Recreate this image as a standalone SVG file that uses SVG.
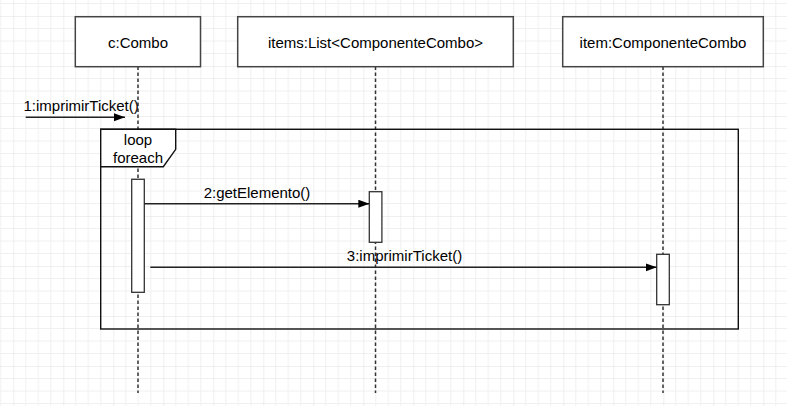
<svg xmlns="http://www.w3.org/2000/svg" width="787" height="406" viewBox="0 0 787 406">
<defs>
<pattern id="grid" width="50" height="50" patternUnits="userSpaceOnUse" x="13.3" y="16">
<path d="M12.5,0V50M25,0V50M37.5,0V50M0,12.5H50M0,25H50M0,37.5H50" fill="none" stroke="#f0f0f0" stroke-width="1"/>
<path d="M0,0V50M0,0H50" fill="none" stroke="#e0e0e0" stroke-width="1"/>
</pattern>
<marker id="arrow" markerUnits="userSpaceOnUse" markerWidth="12" markerHeight="9" refX="11" refY="4" orient="auto">
<path d="M0,0 L11,4 L0,8 z" fill="#000"/>
</marker>
<style>
.box{fill:#fff;stroke:#444;stroke-width:1.5}
.life{fill:none;stroke:#333;stroke-width:1.5;stroke-dasharray:3.5 2.5}
.act{fill:#fff;stroke:#333;stroke-width:1.3}
.msg{fill:none;stroke:#222;stroke-width:1.4;marker-end:url(#arrow)}
.frame{fill:none;stroke:#111;stroke-width:1.4}
text{font-family:"Liberation Sans",Arial,sans-serif;font-size:15px;fill:#000}
.c{text-anchor:middle;dominant-baseline:central}
</style>
</defs>
<rect width="787" height="406" fill="#fff"/>
<rect width="787" height="406" fill="url(#grid)"/>

<g id="combo">
<line class="life" x1="138" y1="66.5" x2="138" y2="393"/>
<rect class="box" x="75.3" y="16.7" width="125.2" height="50"/>
<text class="c" x="138" y="42">c:Combo</text>
</g>

<g id="items">
<line class="life" x1="375.5" y1="66.5" x2="375.5" y2="393"/>
<rect class="box" x="237.7" y="16.7" width="275.6" height="50"/>
<text class="c" x="375.5" y="42">items:List&lt;ComponenteCombo&gt;</text>
</g>

<g id="item">
<line class="life" x1="663" y1="66.5" x2="663" y2="393"/>
<rect class="box" x="562.7" y="16.7" width="200.6" height="50"/>
<text class="c" x="663" y="42">item:ComponenteCombo</text>
</g>

<g id="loop">
<rect class="frame" x="100.7" y="129.3" width="637.6" height="199.7"/>
<path class="frame" d="M100.7,166.7 H163.3 L175.7,149.3 V129.3 H100.7 Z" style="fill:#fff"/>
<text class="c" x="138" y="139.5">loop</text>
<text class="c" x="138" y="157">foreach</text>
</g>

<g id="activation-combo">
<rect class="act" x="131.7" y="179.3" width="12.6" height="113"/>
</g>
<g id="activation-items">
<rect class="act" x="369.3" y="191.7" width="12.6" height="50.6"/>
</g>
<g id="activation-item">
<rect class="act" x="656.7" y="254.3" width="12.6" height="50.4"/>
</g>

<g id="connectors">
<line class="msg" x1="25.7" y1="117.3" x2="125" y2="117.3"/>
<text x="23.5" y="105" dominant-baseline="central">1:imprimirTicket()</text>
<line class="msg" x1="144.3" y1="203.7" x2="369.3" y2="203.7"/>
<text class="c" x="257" y="192.5">2:getElemento()</text>
<line class="msg" x1="150.3" y1="267.3" x2="656.7" y2="267.3"/>
<text class="c" x="404.5" y="255">3:imprimirTicket()</text>
</g>
</svg>
